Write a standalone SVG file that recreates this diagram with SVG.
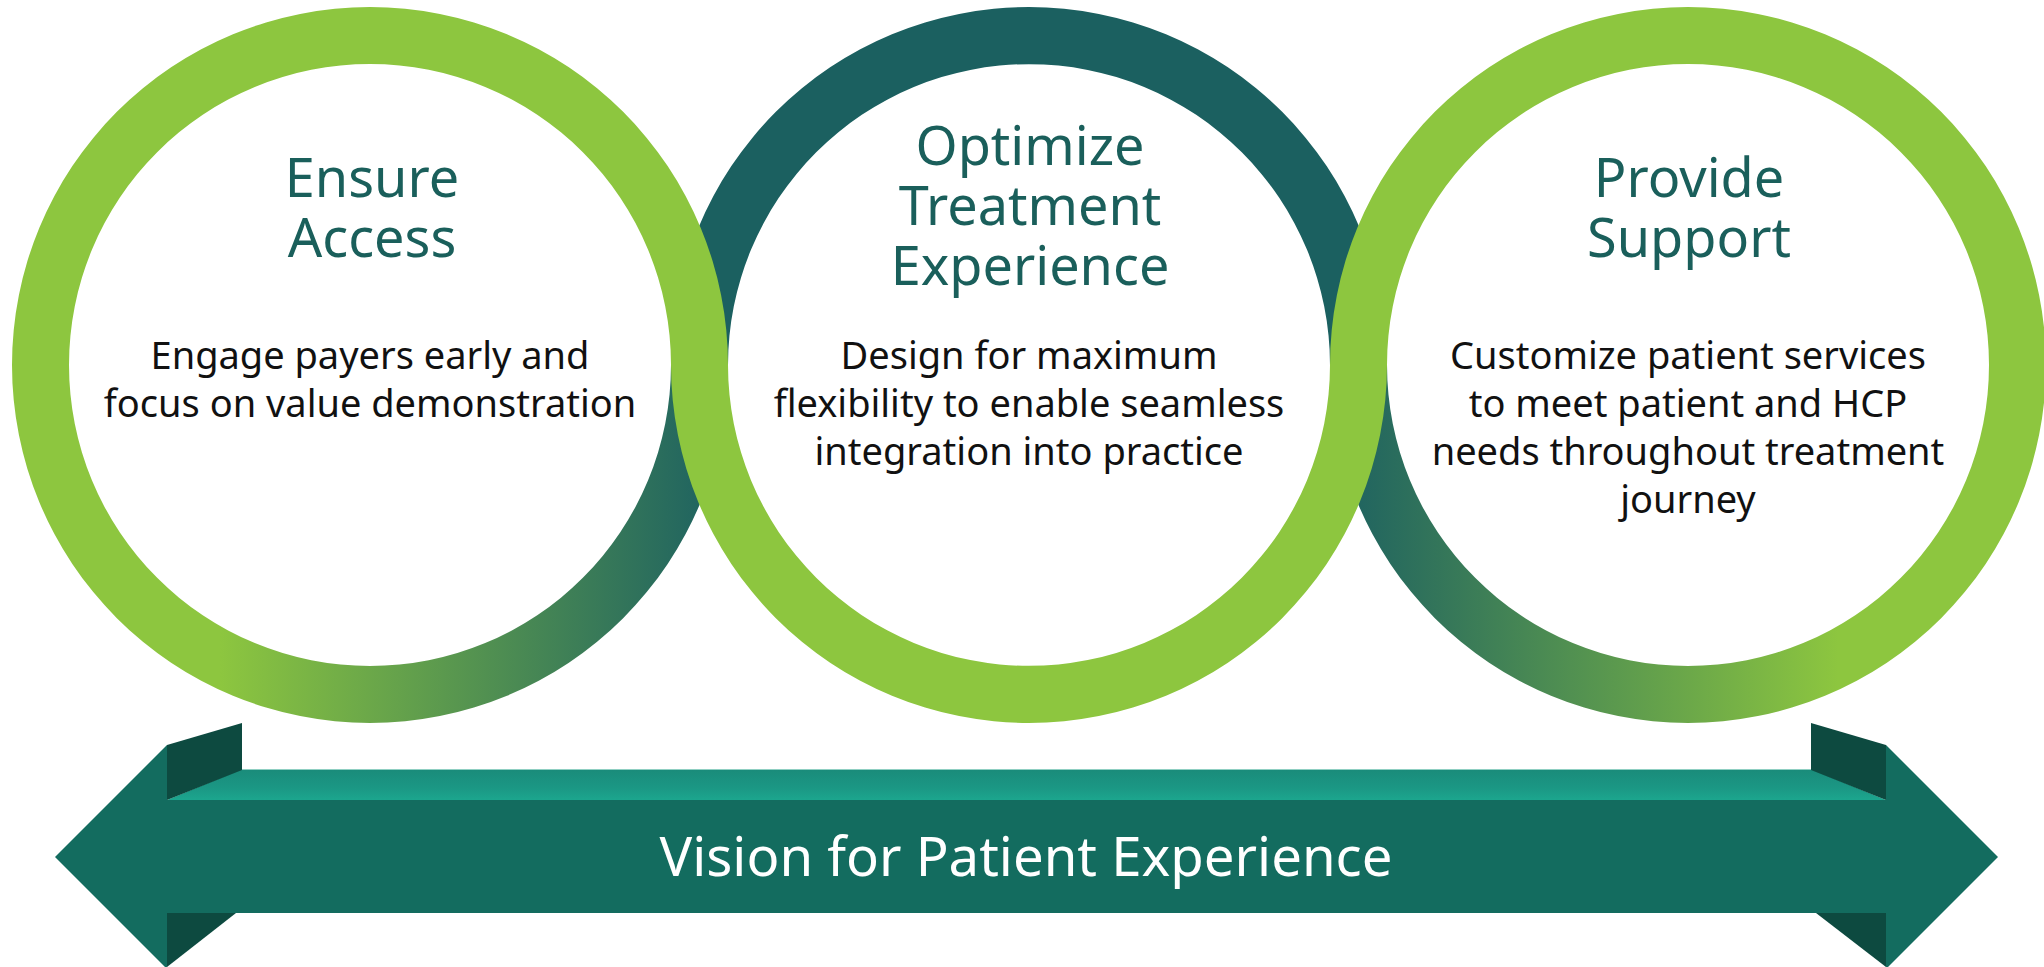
<svg xmlns="http://www.w3.org/2000/svg" width="2044" height="967" viewBox="0 0 2044 967">
  <style>
    .title { font-family: "Noto Sans", "Open Sans", sans-serif; font-size: 54px; fill: #1a5f5b; text-anchor: middle; }
    .body { font-family: "Noto Sans", "Open Sans", sans-serif; font-size: 38px; fill: #111111; text-anchor: middle; }
    .banner { font-family: "Noto Sans", "Open Sans", sans-serif; font-size: 54.5px; fill: #ffffff; text-anchor: middle; }
    .green { fill: #8dc63f; }
    .teal { fill: #1b6060; }
    .tab { fill: #0d4a40; }
    .face { fill: #136c5f; }
  </style>
  <defs>
    <linearGradient id="fadeLeft" gradientUnits="userSpaceOnUse" x1="220" y1="0" x2="710" y2="0">
      <stop offset="0" stop-color="#8dc63f"/>
      <stop offset="1" stop-color="#1f6360"/>
    </linearGradient>
    <linearGradient id="fadeRight" gradientUnits="userSpaceOnUse" x1="1838" y1="0" x2="1348" y2="0">
      <stop offset="0" stop-color="#8dc63f"/>
      <stop offset="1" stop-color="#1f6360"/>
    </linearGradient>
    <linearGradient id="topFace" x1="0" y1="0" x2="0" y2="1">
      <stop offset="0" stop-color="#1a8b7a"/>
      <stop offset="0.6" stop-color="#1b9784"/>
      <stop offset="1" stop-color="#1ca68e"/>
    </linearGradient>
  </defs>

  <!-- interlocking rings: lower halves of the outer rings sit underneath -->
  <g id="rings">
    <!-- left ring, lower half -->
    <path fill="url(#fadeLeft)" d="M12,365 A358,358 0 0 0 728,365 L671,365 A301,301 0 0 1 69,365 Z"/>
    <!-- right ring, lower half -->
    <path fill="url(#fadeRight)" d="M1330,365 A358,358 0 0 0 2046,365 L1989,365 A301,301 0 0 1 1387,365 Z"/>
    <!-- middle ring, upper half -->
    <path class="teal" d="M671,365 A358,358 0 0 1 1387,365 L1330,365 A301,301 0 0 0 728,365 Z"/>
    <!-- middle ring, lower half -->
    <path class="green" d="M671,365 A358,358 0 0 0 1387,365 L1330,365 A301,301 0 0 1 728,365 Z"/>
    <!-- left ring, upper half -->
    <path class="green" d="M12,365 A358,358 0 0 1 728,365 L671,365 A301,301 0 0 0 69,365 Z"/>
    <!-- right ring, upper half -->
    <path class="green" d="M1330,365 A358,358 0 0 1 2046,365 L1989,365 A301,301 0 0 0 1387,365 Z"/>
  </g>

  <g id="ensure-access">
    <text class="title"><tspan x="372" y="197">Ensure</tspan><tspan x="372" y="257">Access</tspan></text>
    <text class="body"><tspan x="370" y="369">Engage payers early and</tspan><tspan x="370" y="417">focus on value demonstration</tspan></text>
  </g>

  <g id="optimize-treatment">
    <text class="title"><tspan x="1030" y="165">Optimize</tspan><tspan x="1030" y="225">Treatment</tspan><tspan x="1030" y="285">Experience</tspan></text>
    <text class="body"><tspan x="1029" y="369">Design for maximum</tspan><tspan x="1029" y="417">flexibility to enable seamless</tspan><tspan x="1029" y="465">integration into practice</tspan></text>
  </g>

  <g id="provide-support">
    <text class="title"><tspan x="1689" y="197">Provide</tspan><tspan x="1689" y="257">Support</tspan></text>
    <text class="body"><tspan x="1688" y="369">Customize patient services</tspan><tspan x="1688" y="417">to meet patient and HCP</tspan><tspan x="1688" y="465">needs throughout treatment</tspan><tspan x="1688" y="513">journey</tspan></text>
  </g>

  <!-- double-headed banner arrow -->
  <g id="vision-arrow">
    <polygon class="face" points="55,857 167,745 167,800 1886,800 1886,745 1998,857 1886,969 1886,913 167,913 167,969"/>
    <polygon fill="url(#topFace)" points="242,769 1811,769 1886,800 167,800"/>
    <line x1="242" y1="769.5" x2="1811" y2="769.5" stroke="#8fcfc2" stroke-width="1"/>
    <polygon class="tab" points="167,745 242,723 242,770 167,800"/>
    <polygon class="tab" points="1886,745 1811,723 1811,770 1886,800"/>
    <polygon class="tab" points="167,913 236,913 167,967"/>
    <polygon class="tab" points="1886,913 1816,913 1886,967"/>
    <text class="banner" x="1026" y="876">Vision for Patient Experience</text>
  </g>
</svg>
